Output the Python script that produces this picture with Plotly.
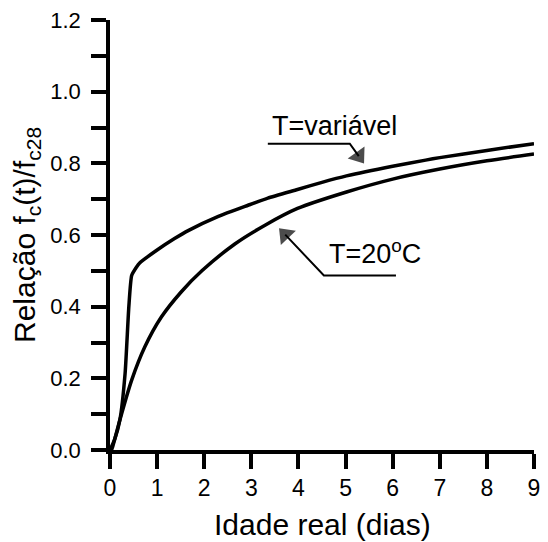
import plotly.graph_objects as go

# Data
x_var = [0, 0.1, 0.21, 0.32, 0.40, 0.46, 0.56, 0.63, 1.0, 1.37, 1.67, 2.3, 2.93, 3.35, 3.98, 4.5, 5.02, 6.0, 6.7, 7.0, 8.0, 9.0]
y_var = [0, 0.03, 0.084, 0.213, 0.40, 0.487, 0.51, 0.522, 0.558, 0.59, 0.613, 0.652, 0.683, 0.703, 0.727, 0.747, 0.765, 0.792, 0.809, 0.816, 0.836, 0.855]

x_20 = [0, 0.03, 0.1, 0.21, 0.46, 0.74, 1.09, 1.51, 1.95, 2.65, 3.3, 3.98, 5.02, 6.0, 7.0, 8.0, 9.0]
y_20 = [0, 0.0, 0.03, 0.084, 0.195, 0.288, 0.371, 0.441, 0.500, 0.575, 0.628, 0.674, 0.72, 0.756, 0.784, 0.807, 0.826]

x_ticks = list(range(0, 10))
y_ticks = [0.0, 0.2, 0.4, 0.6, 0.8, 1.0, 1.2]
y_tick_labels = ["0.0", "0.2", "0.4", "0.6", "0.8", "1.0", "1.2"]

# Leader lines for the labels (annotation geometry)
lead_var_x = [3.35, 5.09, 5.28]
lead_var_y = [0.855, 0.855, 0.82]
lead_20_x = [6.07, 4.54, 3.72]
lead_20_y = [0.487, 0.487, 0.601]

FONT = "Arial, Liberation Sans, sans-serif"

fig = go.Figure()
fig.add_trace(go.Scatter(x=x_var, y=y_var, mode="lines",
                         line=dict(color="black", width=3.5, shape="spline", smoothing=0.5),
                         name="T=variável", showlegend=False))
fig.add_trace(go.Scatter(x=x_20, y=y_20, mode="lines",
                         line=dict(color="black", width=3.5, shape="spline", smoothing=0.8),
                         name="T=20ºC", showlegend=False))

for lx, ly in [(lead_var_x, lead_var_y), (lead_20_x, lead_20_y)]:
    fig.add_trace(go.Scatter(x=lx, y=ly, mode="lines+markers", cliponaxis=False,
                             line=dict(color="black", width=2),
                             marker=dict(symbol="triangle-up", angleref="previous", size=[0, 0, 18],
                                         color="black", line=dict(width=0)),
                             showlegend=False, hoverinfo="skip"))

axis_common = dict(showline=True, linecolor="black", linewidth=3.5, ticks="outside",
                   ticklen=15, tickwidth=3.5, tickcolor="black", showgrid=False,
                   zeroline=False)

fig.update_xaxes(range=[0, 9], tickvals=x_ticks, ticktext=[str(v) for v in x_ticks],
                 tickfont=dict(family=FONT, size=23, color="black"), **axis_common)
fig.update_yaxes(range=[0, 1.2], tickvals=y_ticks, ticktext=y_tick_labels,
                 ticklabelstandoff=6,
                 tickfont=dict(family=FONT, size=22, color="black"),
                 minor=dict(ticks="outside", ticklen=15, tickwidth=3.5, tickcolor="black", dtick=0.1, showgrid=False),
                 **axis_common)

fig.add_annotation(x=3.39, y=0.905, xref="x", yref="y", text="T=variável", showarrow=False,
                   xanchor="left", yanchor="middle", font=dict(family=FONT, size=27, color="black"))
fig.add_annotation(x=4.60, y=0.552, xref="x", yref="y", text="T=20<sup>o</sup>C", showarrow=False,
                   xanchor="left", yanchor="middle", font=dict(family=FONT, size=27, color="black"))

# Axis titles
fig.add_annotation(x=0, y=0.5, xref="paper", yref="paper", xshift=-84, textangle=-90,
                   text="Relação f<sub>c</sub>(t)/f<sub>c28</sub>", showarrow=False,
                   xanchor="center", yanchor="middle", font=dict(family=FONT, size=30, color="black"))
fig.add_annotation(x=0.502, y=0, xref="paper", yref="paper", yshift=-74,
                   text="Idade real (dias)", showarrow=False,
                   xanchor="center", yanchor="middle", font=dict(family=FONT, size=30, color="black"))

fig.update_layout(width=548, height=542, margin=dict(l=110, r=8, t=19, b=92),
                  plot_bgcolor="white", paper_bgcolor="white", showlegend=False)

fig.write_html("out.html")
